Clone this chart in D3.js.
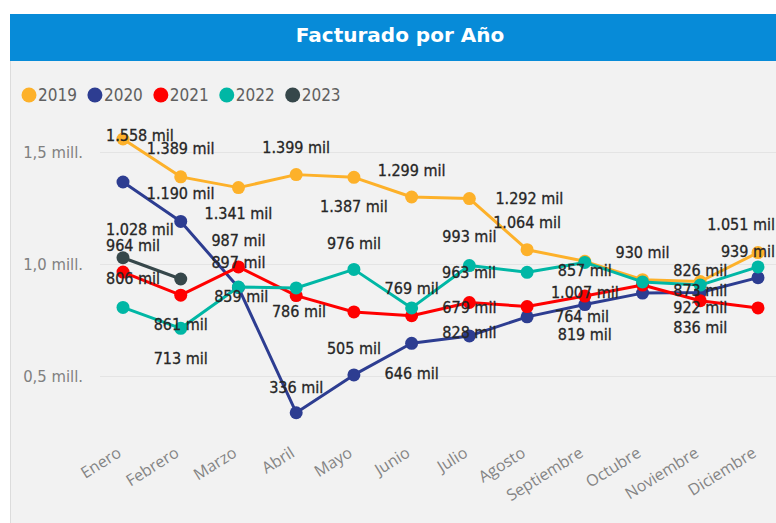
<!DOCTYPE html>
<html><head><meta charset="utf-8">
<script src="https://cdn.jsdelivr.net/npm/d3@7"></script>
<style>body{margin:0;background:#fff;overflow:hidden}</style>
</head><body>
<svg id="c" width="776" height="523"></svg>
<script>
// ---------- DATA ----------
const months = ["Enero","Febrero","Marzo","Abril","Mayo","Junio","Julio","Agosto","Septiembre","Octubre","Noviembre","Diciembre"];
const years = ["2019","2020","2021","2022","2023"];
const colors = ["#FDB12A","#2D3D91","#FF0000","#00B7A5","#36474A"];

// values (units)
const v2019 = [1558000,1389000,1341000,1399000,1387000,1299000,1292000,1064000,1012000,930000,922000,1051000];
const v2020 = [1366000,1190000,895000,336000,505000,646000,679000,764000,819000,870000,873000,939000];
const v2021 = [964000,861000,987000,859000,786000,769000,828000,810000,857000,906000,836000,804000];
const v2022 = [806000,713000,897000,893000,976000,804000,993000,963000,1007000,920000,906000,987000];
const v2023 = [1028000,933000,null,null,null,null,null,null,null,null,null,null];

// data labels shown in the picture (thousands), null = no label
const lab2019 = [1558,1389,1341,1399,1387,1299,1292,1064,null,930,922,1051];
const lab2020 = [null,1190,null,336,505,646,679,764,819,null,873,939];
const lab2021 = [964,861,987,859,786,769,828,null,857,null,836,null];
const lab2022 = [806,713,897,null,976,null,993,963,1007,null,826,null];
const lab2023 = [1028,null,null,null,null,null,null,null,null,null,null,null];

const yTicks = [500000,1000000,1500000];

// ---------- LAYOUT (label offsets from their point, px) ----------
const place = {
  "2019": [[0,-4],[0,-28],[0,26],[0,-27],[0,29],[0,-27],[60,0],[0,-27],null,[0,-27],[0,26],[0,-28]],
  "2020": [null,[0,-28],null,[0,-25],[0,-26],[0,30],[0,-28],[55,0],[0,30],null,[0,-2],[0,-26]],
  "2021": [[0,-27],[0,29],[0,-26],[-55,1],[-55,0],[0,-27],[0,30],null,[0,-26],null,[0,27],null],
  "2022": [[0,-29],[0,30],[0,-25],null,[0,-26],null,[0,-29],[-58,0],[0,30],null,[0,-15],null],
  "2023": [[0,-28],null,null,null,null,null,null,null,null,null,null,null]
};

const series = [
  {year:"2019", values:v2019, labels:lab2019},
  {year:"2020", values:v2020, labels:lab2020},
  {year:"2021", values:v2021, labels:lab2021},
  {year:"2022", values:v2022, labels:lab2022},
  {year:"2023", values:v2023, labels:lab2023}
];

const W = 776, H = 523;
const svg = d3.select("#c");
const es = d3.formatLocale({decimal:",", thousands:".", grouping:[3], currency:["",""]});
const fmtK = es.format(",");
const fmtM = es.format(".1f");

// panel + title
svg.append("rect").attr("x",10).attr("y",61).attr("width",W-10).attr("height",H-61).attr("fill","#f2f2f2");
svg.append("line").attr("x1",10.5).attr("x2",10.5).attr("y1",61).attr("y2",H).attr("stroke","#dcdcdc");
svg.append("rect").attr("x",10).attr("y",14).attr("width",W-10).attr("height",47).attr("fill","#078BD8");
svg.append("text").attr("x",400).attr("y",42).attr("text-anchor","middle")
  .attr("font-family","DejaVu Sans").attr("font-weight","bold").attr("font-size",20)
  .attr("fill","#fff").text("Facturado por Año");

// legend
const lg = svg.append("g");
let lx = 29;
years.forEach((yv,i)=>{
  lg.append("circle").attr("cx",lx).attr("cy",95).attr("r",7.5).attr("fill",colors[i]);
  const t = lg.append("text").attr("x",lx+9).attr("y",101)
    .attr("font-family","DejaVu Sans Condensed").attr("font-size",17).attr("fill","#606060").text(yv);
  const w = t.node().getComputedTextLength();
  lx = lx + 9 + w + 18;
});

// scales
const x = d3.scalePoint().domain(months).range([123,758]);
const y = d3.scaleLinear().domain([0,1500000]).range([488,152]);

// y axis with gridlines
const ya = svg.append("g").attr("transform","translate(100,0)")
  .call(d3.axisLeft(y).tickValues(yTicks).tickSize(-(W-100)).tickPadding(17)
    .tickFormat(d=>fmtM(d/1e6)+" mill."));
ya.select(".domain").remove();
ya.selectAll(".tick line").attr("stroke","#e4e4e4");
ya.selectAll(".tick text").attr("font-family","DejaVu Sans Condensed").attr("font-size",16.5).attr("fill","#808080");

// x axis
const xa = svg.append("g").attr("transform","translate(0,446)")
  .call(d3.axisBottom(x).tickSize(0));
xa.select(".domain").remove();
xa.selectAll(".tick text")
  .attr("font-family","Open Sans").attr("font-size",16).attr("fill","#848484")
  .attr("text-anchor","end").attr("x",0).attr("y",0).attr("dy","0.35em")
  .attr("transform","translate(-4,5) rotate(-32)");

// lines + markers
const line = d3.line().defined(d=>d!=null).x((d,i)=>x(months[i])).y(d=>y(d));
series.forEach((s,si)=>{
  const g = svg.append("g");
  g.append("path").attr("d",line(s.values)).attr("fill","none")
    .attr("stroke",colors[si]).attr("stroke-width",3).attr("stroke-linejoin","round");
  g.selectAll("circle").data(s.values.map((v,i)=>({v,i})).filter(d=>d.v!=null)).join("circle")
    .attr("cx",d=>x(months[d.i])).attr("cy",d=>y(d.v)).attr("r",6.5).attr("fill",colors[si]);
});

// data labels
const lblG = svg.append("g");
series.forEach((s)=>{
  s.labels.forEach((lv,i)=>{
    if (lv==null || s.values[i]==null) return;
    const off = place[s.year][i] || [0,-27];
    const t = lblG.append("text")
      .attr("font-family","DejaVu Sans Condensed").attr("font-size",16).attr("fill","#262626")
      .attr("stroke","#262626").attr("stroke-width",0.3)
      .attr("text-anchor","middle").attr("dominant-baseline","central")
      .attr("y", y(s.values[i]) + off[1])
      .text(fmtK(lv)+" mil");
    let cx = x(months[i]) + off[0];
    const w = t.node().getComputedTextLength();
    if (cx - w/2 < 106) cx = 106 + w/2;
    if (cx + w/2 > 775) cx = 775 - w/2;
    t.attr("x", cx);
  });
});
</script>
</body></html>
